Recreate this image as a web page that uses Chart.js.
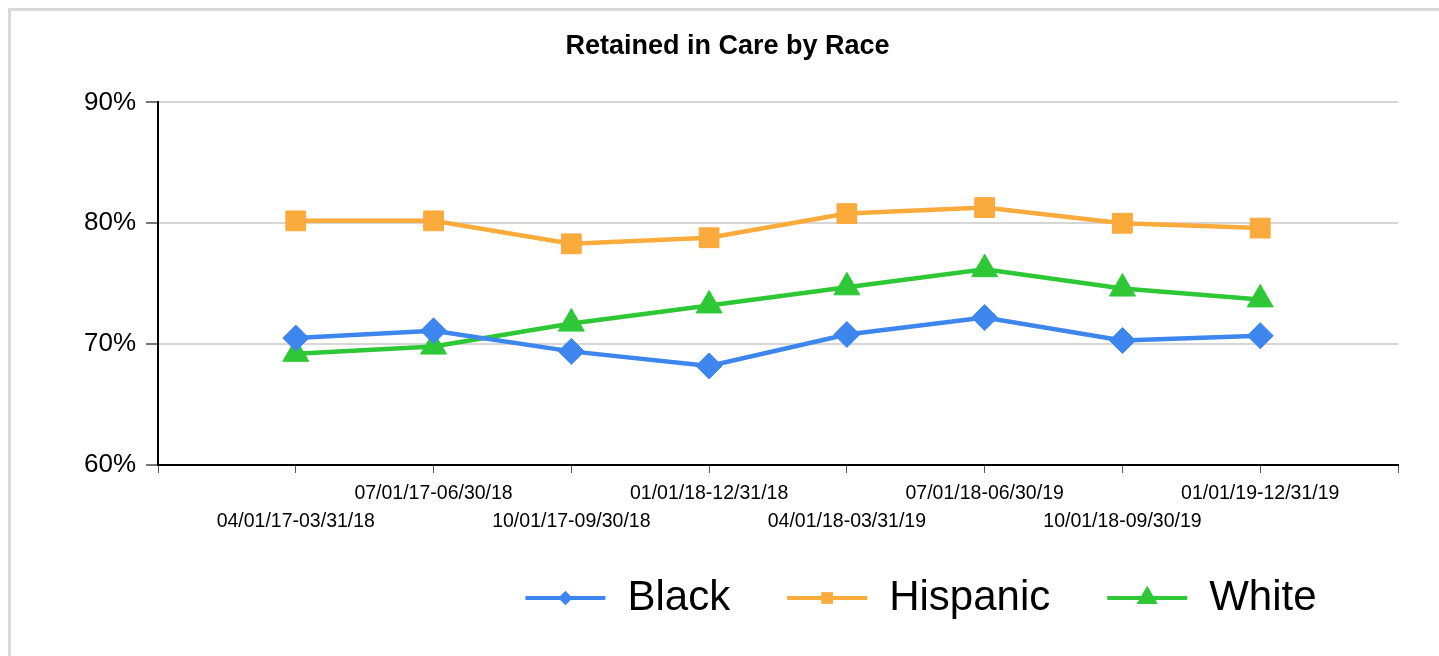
<!DOCTYPE html>
<html>
<head>
<meta charset="utf-8">
<script src="https://cdn.jsdelivr.net/npm/chart.js@4/dist/chart.umd.min.js"></script>
<style>
  html, body { margin: 0; padding: 0; background: #fff; overflow: hidden; }
  #frame {
    position: absolute; left: 8px; top: 8px; width: 1460px; height: 680px;
    border: 3px solid #d9d9d9; box-sizing: border-box;
  }
  #wrap { position: absolute; left: 0; top: 0; width: 1439px; height: 656px; }
</style>
</head>
<body>
<div id="frame"></div>
<div id="wrap"><canvas id="chart"></canvas></div>
<script>
const periods = [
  '04/01/17-03/31/18', '07/01/17-06/30/18', '10/01/17-09/30/18', '01/01/18-12/31/18',
  '04/01/18-03/31/19', '07/01/18-06/30/19', '10/01/18-09/30/19', '01/01/19-12/31/19'
]
const black = [70.5, 71.1, 69.4, 68.2, 70.8, 72.2, 70.3, 70.7]
const hispanic = [80.2, 80.2, 78.3, 78.8, 80.8, 81.3, 80.0, 79.6]
const white = [69.2, 69.8, 71.7, 73.2, 74.7, 76.2, 74.6, 73.7]
const yTicks = [60, 70, 80, 90]

const FONT = 'Arial, "Liberation Sans", sans-serif'

const toPoints = (vals) => vals.map((v, i) => ({ x: i, y: v }))

// legend drawn under the plot: a line segment with the marker, then the name
const bottomLegend = {
  id: 'bottomLegend',
  afterDraw(chart) {
    const ctx = chart.ctx
    const lineW = 80, gap = 22, between = 57, cy = 598
    ctx.save()
    ctx.font = '42px ' + FONT
    const items = chart.data.datasets.map(ds => ({ ds, w: ctx.measureText(ds.label).width }))
    const total = items.reduce((s, it) => s + lineW + gap + it.w, 0) + between * (items.length - 1)
    let x = 921 - total / 2
    items.forEach(({ ds, w }) => {
      ctx.strokeStyle = ds.borderColor
      ctx.lineWidth = 4
      ctx.beginPath()
      ctx.moveTo(x, cy)
      ctx.lineTo(x + lineW, cy)
      ctx.stroke()
      ctx.fillStyle = ds.borderColor
      Chart.helpers.drawPoint(ctx, {
        pointStyle: ds.pointStyle,
        radius: ds.legendRadius,
        borderWidth: 0,
        rotation: 0
      }, x + lineW / 2, cy)
      ctx.fill()
      ctx.fillStyle = '#000'
      ctx.textBaseline = 'middle'
      ctx.textAlign = 'left'
      ctx.fillText(ds.label, x + lineW + gap, cy)
      x += lineW + gap + w + between
    })
    ctx.restore()
  }
}

new Chart(document.getElementById('chart'), {
  type: 'line',
  data: {
    datasets: [
      {
        label: 'Black',
        data: toPoints(black),
        borderColor: '#3d86ee',
        backgroundColor: '#3d86ee',
        pointStyle: 'rectRot',
        pointRadius: 13,
        legendRadius: 7,
      },
      {
        label: 'Hispanic',
        data: toPoints(hispanic),
        borderColor: '#fbaa3c',
        backgroundColor: '#fbaa3c',
        pointStyle: 'rect',
        pointRadius: 14,
        legendRadius: 8,
      },
      {
        label: 'White',
        data: toPoints(white),
        borderColor: '#2ec836',
        backgroundColor: '#2ec836',
        pointStyle: 'triangle',
        pointRadius: 15,
        legendRadius: 12,
      }
    ]
  },
  options: {
    responsive: true,
    maintainAspectRatio: false,
    animation: false,
    elements: {
      line: { borderWidth: 4.5, tension: 0 },
      point: { borderWidth: 1, hoverRadius: 14 }
    },
    layout: { padding: { left: 57, right: 41, top: 0, bottom: 120 } },
    plugins: {
      legend: { display: false },
      tooltip: { enabled: false },
      title: {
        display: true,
        text: 'Retained in Care by Race',
        color: '#000',
        font: { family: FONT, size: 27, weight: 'bold', lineHeight: 1.2 },
        padding: { top: 30, bottom: 40 }
      }
    },
    scales: {
      x: {
        type: 'linear',
        min: -1,
        max: periods.length,
        afterBuildTicks: (scale) => {
          scale.ticks = [-1, ...periods.map((p, i) => i), periods.length].map(v => ({ value: v }))
        },
        afterFit: (scale) => { scale.height = 71 },
        border: { display: true, color: '#000', width: 2 },
        grid: { drawOnChartArea: false, drawTicks: true, tickLength: 8, color: '#000', tickColor: '#555' },
        ticks: {
          autoSkip: false,
          maxRotation: 0,
          padding: 6,
          color: '#000',
          font: { family: FONT, size: 19.5, lineHeight: 1.45 },
          callback: (v) => {
            const p = periods[v]
            if (!p) return ''
            return v % 2 === 0 ? ['', p] : [p, '']
          }
        }
      },
      y: {
        min: 60,
        max: 90,
        afterBuildTicks: (scale) => { scale.ticks = yTicks.map(v => ({ value: v })) },
        afterFit: (scale) => { scale.width = 101 },
        border: { display: true, color: '#000', width: 2 },
        grid: { color: '#d6d6d6', lineWidth: 2, tickColor: '#777', tickLength: 12, drawTicks: true },
        ticks: {
          padding: 10,
          color: '#000',
          font: { family: FONT, size: 26 },
          callback: (v) => v + '%'
        }
      }
    }
  },
  plugins: [bottomLegend]
})
</script>
</body>
</html>
